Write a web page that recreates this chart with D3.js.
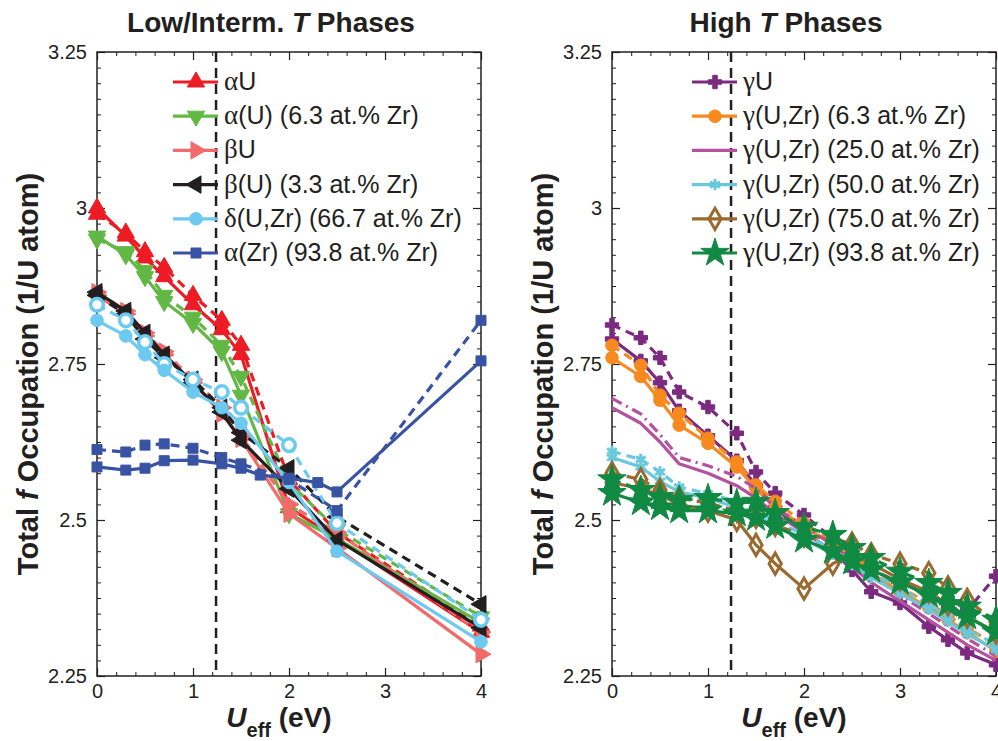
<!DOCTYPE html>
<html>
<head>
<meta charset="utf-8">
<script src="https://cdn.jsdelivr.net/npm/d3@7"></script>
<style>
  body { margin: 0; background: #fff; }
  text { font-family: "Liberation Sans", Arial, sans-serif; }
</style>
</head>
<body>
<svg id="chart" width="998" height="741"></svg>
<script>
// x values (U_eff in eV)
const uLow = [0, 0.3, 0.5, 0.7, 1.0, 1.3, 1.5, 2.0, 2.5, 4.0];
const uZr = [0, 0.3, 0.5, 0.7, 1.0, 1.3, 1.5, 1.7, 2.0, 2.3, 2.5, 4.0];
const uHigh = [0, 0.3, 0.5, 0.7, 1.0, 1.3, 1.5, 1.7, 2.0, 2.3, 2.5, 2.7, 3.0, 3.3, 3.5, 3.7, 4.0];

const xTicks = [0, 1, 2, 3, 4];
const yTicks = [2.25, 2.5, 2.75, 3, 3.25];
const yTickLabels = ["2.25", "2.5", "2.75", "3", "3.25"];
const uMarker = 1.24;

// low / intermediate T phases (solid, dashed)
const alphaU = [3.00, 2.955, 2.92, 2.89, 2.845, 2.805, 2.765, 2.52, 2.47, 2.32];
const alphaUd = [2.99, 2.96, 2.93, 2.905, 2.86, 2.82, 2.78, 2.565, 2.48, 2.33];
const alphaUZr = [2.955, 2.925, 2.89, 2.85, 2.815, 2.77, 2.70, 2.51, 2.47, 2.335];
const alphaUZrd = [2.95, 2.93, 2.90, 2.86, 2.825, 2.78, 2.73, 2.56, 2.485, 2.345];
const betaU = [2.86, 2.83, 2.795, 2.765, 2.72, 2.67, 2.63, 2.51, 2.455, 2.285];
const betaUd = [2.865, 2.835, 2.80, 2.77, 2.725, 2.68, 2.635, 2.525, 2.48, 2.32];
const betaUZr = [2.865, 2.835, 2.80, 2.765, 2.72, 2.673, 2.628, 2.55, 2.468, 2.327];
const betaUZrd = [2.86, 2.83, 2.79, 2.76, 2.725, 2.68, 2.64, 2.583, 2.505, 2.365];
const deltaUZr = [2.82, 2.795, 2.765, 2.74, 2.705, 2.68, 2.655, 2.56, 2.45, 2.305];
const deltaUZrd = [2.845, 2.82, 2.785, 2.75, 2.725, 2.705, 2.68, 2.62, 2.495, 2.34];
const alphaZr = [2.585, 2.58, 2.583, 2.595, 2.596, 2.59, 2.583, 2.572, 2.567, 2.56, 2.545, 2.755];
const alphaZrd = [2.613, 2.609, 2.62, 2.622, 2.615, 2.60, 2.59, 2.565, 2.515, 2.82];

// high T phases
const gammaU = [2.79, 2.755, 2.72, 2.675, 2.635, 2.595, 2.555, 2.52, 2.48, 2.45, 2.42, 2.385, 2.367, 2.329, 2.308, 2.287, 2.268];
const gammaUd = [2.8125, 2.792, 2.76, 2.705, 2.681, 2.639, 2.577, 2.543, 2.508, 2.47, 2.445, 2.42, 2.40, 2.38, 2.36, 2.355, 2.41];
const gamma6 = [2.76, 2.73, 2.692, 2.652, 2.623, 2.585, 2.55, 2.52, 2.49, 2.46, 2.44, 2.415, 2.385, 2.36, 2.34, 2.32, 2.29];
const gamma6d = [2.78, 2.748, 2.70, 2.671, 2.631, 2.593, 2.556, 2.53, 2.495, 2.465, 2.447, 2.42, 2.392, 2.367, 2.347, 2.327, 2.30];
const gamma25 = [2.68, 2.655, 2.625, 2.59, 2.575, 2.555, 2.535, 2.51, 2.48, 2.45, 2.425, 2.40, 2.37, 2.34, 2.32, 2.30, 2.275];
const gamma25d = [2.695, 2.67, 2.637, 2.60, 2.587, 2.57, 2.55, 2.52, 2.49, 2.46, 2.435, 2.41, 2.38, 2.35, 2.33, 2.31, 2.282];
const gamma50 = [2.60, 2.585, 2.562, 2.545, 2.535, 2.52, 2.51, 2.49, 2.47, 2.445, 2.428, 2.408, 2.382, 2.357, 2.337, 2.317, 2.292];
const gamma50d = [2.61, 2.597, 2.577, 2.553, 2.542, 2.53, 2.517, 2.497, 2.477, 2.452, 2.435, 2.415, 2.39, 2.365, 2.345, 2.325, 2.30];
const gamma75 = [2.56, 2.55, 2.54, 2.525, 2.515, 2.50, 2.46, 2.43, 2.39, 2.43, 2.445, 2.43, 2.405, 2.385, 2.365, 2.345, 2.32];
const gamma75d = [2.575, 2.565, 2.548, 2.535, 2.527, 2.515, 2.505, 2.492, 2.475, 2.47, 2.462, 2.445, 2.43, 2.415, 2.392, 2.372, 2.337];
const gamma94 = [2.543, 2.528, 2.52, 2.515, 2.515, 2.51, 2.503, 2.49, 2.468, 2.45, 2.433, 2.42, 2.40, 2.38, 2.365, 2.345, 2.32];
const gamma94d = [2.565, 2.548, 2.537, 2.532, 2.535, 2.527, 2.529, 2.511, 2.489, 2.476, 2.455, 2.439, 2.417, 2.399, 2.383, 2.361, 2.34];

const lowSeries = [
    { greek: "α", rest: "U", color: "#ed1c24", mark: "up", x: uLow, solid: alphaU, dashed: alphaUd },
    { greek: "α", rest: "(U) (6.3 at.% Zr)", color: "#62b845", mark: "down", x: uLow, solid: alphaUZr, dashed: alphaUZrd },
    { greek: "β", rest: "U", color: "#f26a6a", mark: "right", x: uLow, solid: betaU, dashed: betaUd },
    { greek: "β", rest: "(U) (3.3 at.% Zr)", color: "#231f20", mark: "left", x: uLow, solid: betaUZr, dashed: betaUZrd },
    { greek: "δ", rest: "(U,Zr) (66.7 at.% Zr)", color: "#6cc9ef", mark: "circle", x: uLow, solid: deltaUZr, dashed: deltaUZrd },
    { greek: "α", rest: "(Zr) (93.8 at.% Zr)", color: "#3953a4", mark: "square", x: uZr, xd: uLow, solid: alphaZr, dashed: alphaZrd },
];

const highSeries = [
    { greek: "γ", rest: "U", color: "#7b2a80", mark: "cross", x: uHigh, solid: gammaU, dashed: gammaUd },
    { greek: "γ", rest: "(U,Zr) (6.3 at.% Zr)", color: "#f7891f", mark: "circle", x: uHigh, solid: gamma6, dashed: gamma6d },
    { greek: "γ", rest: "(U,Zr) (25.0 at.% Zr)", color: "#b5529f", mark: "none", dash: "11,5,2,5", x: uHigh, solid: gamma25, dashed: gamma25d },
    { greek: "γ", rest: "(U,Zr) (50.0 at.% Zr)", color: "#68c8dc", mark: "asterisk", x: uHigh, solid: gamma50, dashed: gamma50d },
    { greek: "γ", rest: "(U,Zr) (75.0 at.% Zr)", color: "#9b6a30", mark: "diamond", x: uHigh, solid: gamma75, dashed: gamma75d },
    { greek: "γ", rest: "(U,Zr) (93.8 at.% Zr)", color: "#108a43", mark: "star", x: uHigh, solid: gamma94, dashed: gamma94d },
];

const svg = d3.select("#chart");

function symbolPath(mark) {
    if (mark === "circle") return d3.symbol(d3.symbolCircle, 125)();
    if (mark === "square") return d3.symbol(d3.symbolSquare, 100)();
    if (mark === "cross") return d3.symbol(d3.symbolCross, 100)();
    if (mark === "asterisk") return d3.symbol(d3.symbolAsterisk, 90)();
    if (mark === "diamond") return d3.symbol(d3.symbolDiamond, 130)();
    if (mark === "star") return d3.symbol(d3.symbolStar, 250)();
    return d3.symbol(d3.symbolTriangle, 130)();
}

function rotation(mark) {
    if (mark === "down") return 180;
    if (mark === "right") return 90;
    if (mark === "left") return -90;
    return 0;
}

function drawMarker(sel, s, open) {
    const p = sel.append("path")
        .attr("d", symbolPath(s.mark));
    if (s.mark === "asterisk" || s.mark === "diamond") {
        p.attr("fill", "none").attr("stroke", s.color).attr("stroke-width", 3);
    } else if (open && s.mark === "circle" && s.color === "#6cc9ef") {
        p.attr("fill", "#fff").attr("stroke", s.color).attr("stroke-width", 3.5);
    } else {
        p.attr("fill", s.color).attr("stroke", s.color).attr("stroke-width", 1);
    }
    return p;
}

function panel(left, title, series, legendX) {
    const right = left + 384;
    const top = 52, bottom = 676;
    const mid = (left + right) / 2;

    const x = d3.scaleLinear().domain([0, 4]).range([left, right]);
    const y = d3.scaleLinear().domain([2.25, 3.25]).range([bottom, top]);

    const g = svg.append("g");

    // title
    const t = g.append("text")
        .attr("x", mid - 18)
        .attr("y", 32)
        .attr("text-anchor", "middle")
        .attr("font-size", "28px")
        .attr("font-weight", "bold")
        .attr("fill", "#231f20");
    const parts = title.split("T");
    t.append("tspan").text(parts[0]);
    t.append("tspan").attr("font-style", "italic").text("T");
    t.append("tspan").text(parts[1]);

    // minor + major ticks on all four sides, pointing inwards
    const minorX = d3.range(0, 4.001, 0.2);
    const minorY = d3.range(2.25, 3.2501, 0.025);
    const axes = [
        [d3.axisBottom(x), bottom, "x"],
        [d3.axisTop(x), top, "x"],
        [d3.axisLeft(y), left, "y"],
        [d3.axisRight(y), right, "y"],
    ];
    axes.forEach(([ax, pos, dir]) => {
        const tr = dir === "x" ? `translate(0,${pos})` : `translate(${pos},0)`;
        g.append("g").attr("transform", tr)
            .call(ax.tickValues(dir === "x" ? minorX : minorY).tickSize(-4).tickSizeOuter(0).tickFormat(""))
            .call(a => a.select(".domain").remove())
            .selectAll("line").attr("stroke", "#231f20").attr("stroke-width", 1);
        g.append("g").attr("transform", tr)
            .call(ax.tickValues(dir === "x" ? xTicks : yTicks).tickSize(-8).tickSizeOuter(0).tickFormat(""))
            .call(a => a.select(".domain").remove())
            .selectAll("line").attr("stroke", "#231f20").attr("stroke-width", 1.2);
    });

    // tick labels
    g.append("g").attr("transform", `translate(0,${bottom})`)
        .call(d3.axisBottom(x).tickValues(xTicks).tickSize(0).tickPadding(8).tickFormat(d3.format("d")))
        .call(a => a.select(".domain").remove())
        .selectAll("text").attr("font-size", "20px").attr("fill", "#231f20")
        .attr("font-family", "'Liberation Sans', Arial, sans-serif");
    g.append("g").attr("transform", `translate(${left},0)`)
        .call(d3.axisLeft(y).tickValues(yTicks).tickSize(0).tickPadding(10).tickFormat((d, i) => yTickLabels[i]))
        .call(a => a.select(".domain").remove())
        .selectAll("text").attr("font-size", "20px").attr("fill", "#231f20")
        .attr("font-family", "'Liberation Sans', Arial, sans-serif");

    // frame
    g.append("rect")
        .attr("x", left).attr("y", top)
        .attr("width", right - left).attr("height", bottom - top)
        .attr("fill", "none").attr("stroke", "#231f20").attr("stroke-width", 1.5);

    // axis labels
    const xl = g.append("text")
        .attr("x", mid - 10).attr("y", 727)
        .attr("text-anchor", "middle")
        .attr("font-size", "28px").attr("font-weight", "bold")
        .attr("fill", "#231f20");
    xl.append("tspan").attr("font-style", "italic").text("U");
    xl.append("tspan").attr("font-size", "20px").attr("dy", 10).text("eff");
    xl.append("tspan").attr("dy", -10).text(" (eV)");

    const yl = g.append("text")
        .attr("transform", `translate(${left - 59},${(top + bottom) / 2 + 10}) rotate(-90)`)
        .attr("text-anchor", "middle")
        .attr("font-size", "29px").attr("font-weight", "bold")
        .attr("fill", "#231f20");
    yl.append("tspan").text("Total ");
    yl.append("tspan").attr("font-style", "italic").text("f");
    yl.append("tspan").text(" Occupation (1/U atom)");

    // dashed U marker line
    g.append("line")
        .attr("x1", x(uMarker)).attr("x2", x(uMarker))
        .attr("y1", top).attr("y2", bottom)
        .attr("stroke", "#231f20").attr("stroke-width", 2.5)
        .attr("stroke-dasharray", "10,6");

    // data
    series.forEach((s) => {
        const line = d3.line().x(d => x(d[0])).y(d => y(d[1]));
        const solidPts = s.x.map((v, i) => [v, s.solid[i]]);
        const dashedPts = (s.xd || s.x).map((v, i) => [v, s.dashed[i]]);

        [[dashedPts, true], [solidPts, false]].forEach(([pts, dashed]) => {
            g.append("path")
                .attr("d", line(pts))
                .attr("fill", "none")
                .attr("stroke", s.color)
                .attr("stroke-width", 3.2)
                .attr("stroke-linejoin", "round")
                .attr("stroke-dasharray", dashed ? (s.dash || "9,6") : null);
            if (s.mark === "none") return;
            pts.forEach((p) => {
                drawMarker(g, s, dashed)
                    .attr("transform", `translate(${x(p[0])},${y(p[1])}) rotate(${rotation(s.mark)})`);
            });
        });
    });

    // legend
    series.forEach((s, i) => {
        const ly = 82 + i * 34.2;
        g.append("line")
            .attr("x1", legendX).attr("x2", legendX + 45)
            .attr("y1", ly).attr("y2", ly)
            .attr("stroke", s.color).attr("stroke-width", 3.2);
        if (s.mark !== "none") {
            drawMarker(g, s, false)
                .attr("transform", `translate(${legendX + 23},${ly}) rotate(${rotation(s.mark)})`);
        }
        const txt = g.append("text")
            .attr("x", legendX + 51).attr("y", ly + 8)
            .attr("font-size", "25px").attr("fill", "#231f20");
        txt.append("tspan").attr("font-family", "'Liberation Serif', 'DejaVu Serif', serif").attr("font-size", "27px").text(s.greek);
        txt.append("tspan").text(s.rest);
    });
}

panel(97, "Low/Interm. T Phases", lowSeries, 173);
panel(612, "High T Phases", highSeries, 692);
</script>
</body>
</html>
